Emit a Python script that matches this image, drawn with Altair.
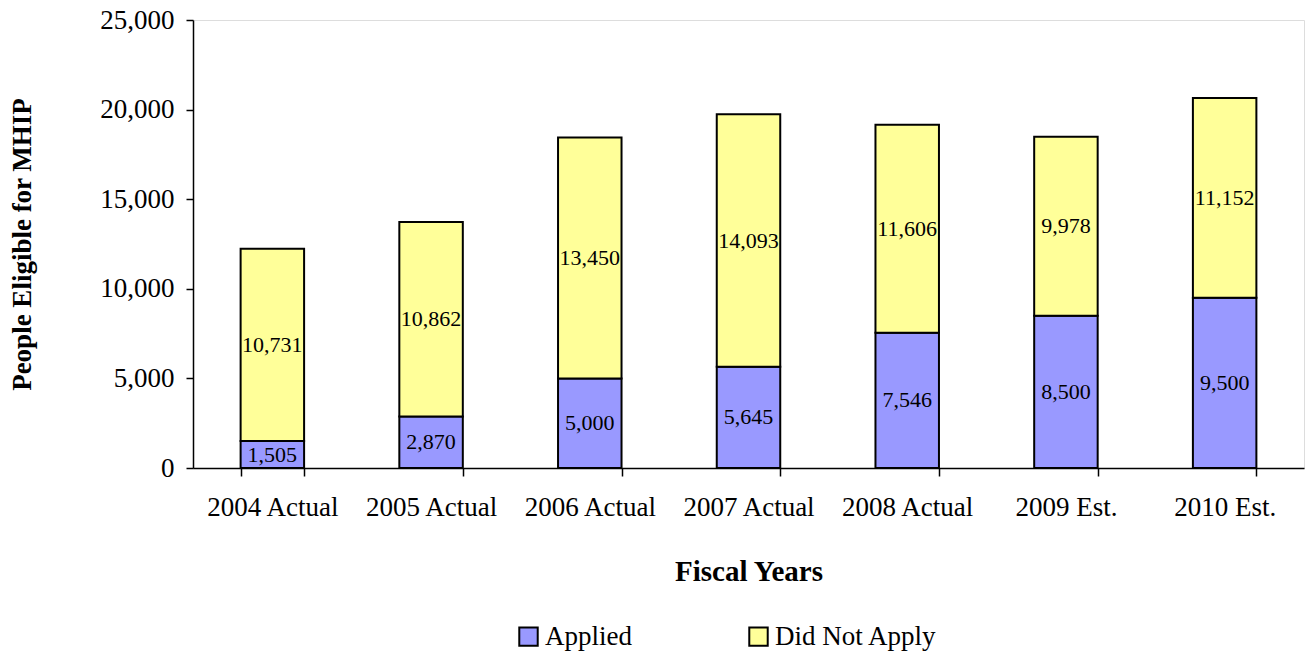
import altair as alt
import pandas as pd

years = ["2004 Actual", "2005 Actual", "2006 Actual", "2007 Actual",
         "2008 Actual", "2009 Est.", "2010 Est."]
applied = [1505, 2870, 5000, 5645, 7546, 8500, 9500]
did_not_apply = [10731, 10862, 13450, 14093, 11606, 9978, 11152]
series = ["Applied", "Did Not Apply"]
colors = ["#9999FF", "#FFFF99"]
y_ticks = [0, 5000, 10000, 15000, 20000, 25000]

rows = []
for i, y in enumerate(years):
    rows.append({"year": y, "series": series[0], "rank": 0, "value": applied[i]})
    rows.append({"year": y, "series": series[1], "rank": 1, "value": did_not_apply[i]})
df = pd.DataFrame(rows)

FONT = "Liberation Serif"

base = alt.Chart(df).transform_stack(
    stack="value",
    as_=["v0", "v1"],
    groupby=["year"],
    sort=[alt.SortField("rank", order="ascending")],
).transform_calculate(mid="(datum.v0 + datum.v1) / 2")

y_scale = alt.Scale(domain=[0, 25000], nice=False, zero=True)

x_enc = alt.X(
    "year:N",
    sort=years,
    title="Fiscal Years",
    scale=alt.Scale(paddingInner=0.6, paddingOuter=0.3),
    axis=alt.Axis(
        labelAngle=0, labelFont=FONT, labelFontSize=27, labelColor="black",
        labelPadding=18, tickSize=8, tickColor="black", tickWidth=1.5,
        domainColor="black", domainWidth=1.5, tickBand="extent",
        titleFont=FONT, titleFontSize=29, titleFontWeight="bold", titleColor="black",
        titleY=103, titleBaseline="middle",
    ),
)

bars = base.mark_bar(stroke="black", strokeWidth=2).encode(
    x=x_enc,
    y=alt.Y(
        "v0:Q",
        title="People Eligible for MHIP",
        scale=y_scale,
        axis=alt.Axis(
            values=y_ticks, format=",d",
            grid=False, labelFont=FONT, labelFontSize=27, labelColor="black",
            labelPadding=12, tickSize=7, tickColor="black", tickWidth=1.5,
            domainColor="black", domainWidth=1.5,
            titleFont=FONT, titleFontSize=27, titleFontWeight="bold", titleColor="black",
            titleX=-171, titleY=224, titleAngle=270, titleAlign="center",
            titleBaseline="middle",
        ),
    ),
    y2="v1:Q",
    color=alt.Color(
        "series:N",
        scale=alt.Scale(domain=series, range=colors),
        legend=alt.Legend(
            title=None, orient="none", direction="horizontal",
            legendX=322, legendY=603,
            symbolType="square", symbolSize=340, symbolStrokeColor="black",
            symbolStrokeWidth=2, symbolOpacity=1,
            labelFont=FONT, labelFontSize=27, labelColor="black",
            labelOffset=3, columnPadding=113, labelLimit=400,
        ),
    ),
)

labels = base.mark_text(font=FONT, fontSize=22, color="black", baseline="middle").encode(
    x=alt.X("year:N", sort=years),
    y=alt.Y("mid:Q", scale=y_scale),
    text=alt.Text("value:Q", format=","),
)

chart = (bars + labels).properties(
    width=1111, height=448,
    autosize=alt.AutoSizeParams(type="none"),
    padding={"left": 193, "top": 20, "right": 5, "bottom": 183},
).configure_view(stroke="#888888", strokeWidth=1.5).configure(background="white")

chart.save("out.html", embed_options={"renderer": "svg", "actions": False})
